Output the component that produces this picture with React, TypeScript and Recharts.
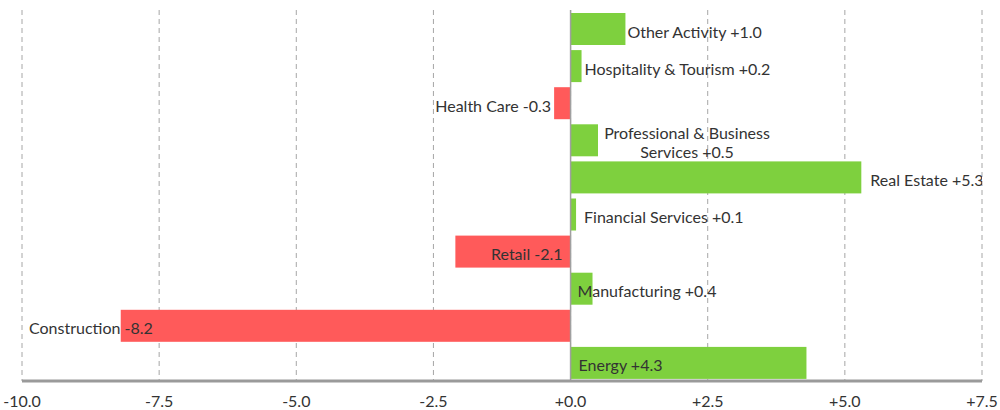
import React from 'react';
import { BarChart, Bar, XAxis, YAxis, CartesianGrid, ReferenceLine } from 'recharts';

const categories = [
  'Other Activity',
  'Hospitality & Tourism',
  'Health Care',
  'Professional & Business Services',
  'Real Estate',
  'Financial Services',
  'Retail',
  'Manufacturing',
  'Construction',
  'Energy',
];
const values = [1.0, 0.2, -0.3, 0.5, 5.3, 0.1, -2.1, 0.4, -8.2, 4.3];
const xTicks = [-10, -7.5, -5, -2.5, 0, 2.5, 5, 7.5];

const data = categories.map((name, i) => ({ name, value: values[i] }));

// label placement styling (reference: 'end' = bar end, 'zero' = bar base, 'min' = plot left)
type Placement = { ref: 'end' | 'zero' | 'min'; anchor: 'start' | 'end' | 'middle'; dx: number; wrap?: boolean };
const labelPlacement: Record<string, Placement> = {
  'Other Activity': { ref: 'end', anchor: 'start', dx: 2 },
  'Hospitality & Tourism': { ref: 'end', anchor: 'start', dx: 3 },
  'Health Care': { ref: 'end', anchor: 'end', dx: -3 },
  'Professional & Business Services': { ref: 'end', anchor: 'middle', dx: 89, wrap: true },
  'Real Estate': { ref: 'end', anchor: 'start', dx: 9 },
  'Financial Services': { ref: 'end', anchor: 'start', dx: 8 },
  Retail: { ref: 'zero', anchor: 'end', dx: -8 },
  Manufacturing: { ref: 'zero', anchor: 'start', dx: 7 },
  Construction: { ref: 'min', anchor: 'start', dx: 7 },
  Energy: { ref: 'zero', anchor: 'start', dx: 8 },
};

const MARGIN = { top: 10, right: 18, bottom: 0, left: 22 };
const GREEN = '#7ed03e';
const RED = '#ff5a5a';
const TEXT = '#333333';
const FONT = 'Lato, "Open Sans", sans-serif';

const fmt = (v: number) => (v >= 0 ? '+' : '') + v.toFixed(1);

const BarShape = (props: any) => {
  const { x, y, width, height, payload } = props;
  const v: number = payload.value;
  const left = Math.min(x, x + width);
  const right = Math.max(x, x + width);
  const w = right - left;
  const end = v >= 0 ? right : left;
  const zero = v >= 0 ? left : right;
  const p = labelPlacement[payload.name];
  const refX = p.ref === 'end' ? end : p.ref === 'zero' ? zero : MARGIN.left;
  const lx = refX + p.dx;
  const cy = y + height / 2;
  const full = `${payload.name} ${fmt(v)}`;
  let content: React.ReactNode;
  if (p.wrap) {
    const words = payload.name.split(' ');
    const last = words.pop();
    const line1 = words.join(' ');
    const line2 = `${last} ${fmt(v)}`;
    content = (
      <text x={lx} textAnchor={p.anchor} fill={TEXT} fontSize={16} fontFamily={FONT}>
        <tspan x={lx} y={cy - 1}>{line1}</tspan>
        <tspan x={lx} y={cy + 18}>{line2}</tspan>
      </text>
    );
  } else {
    content = (
      <text x={lx} y={cy + 8.5} textAnchor={p.anchor} fill={TEXT} fontSize={16} fontFamily={FONT}>
        {full}
      </text>
    );
  }
  return (
    <g>
      <rect x={left} y={y} width={w} height={height} fill={v >= 0 ? GREEN : RED} />
      {content}
    </g>
  );
};

const Tick = (props: any) => {
  const { x, y, payload } = props;
  return (
    <text x={x} y={y + 26} textAnchor="middle" fill={TEXT} fontSize={16} fontFamily={FONT}>
      {fmt(payload.value)}
    </text>
  );
};

export default function App() {
  return (
    <div style={{ position: 'absolute', left: 0, top: 0, width: 1000, height: 410, background: '#fff', overflow: 'visible' }}>
      <BarChart
        width={1000}
        height={410}
        data={data}
        layout="vertical"
        margin={MARGIN}
        style={{ fontFamily: FONT, overflow: 'visible' }}
      >
        <CartesianGrid horizontal={false} stroke="#a6a6a6" strokeDasharray="5 4" />
        <XAxis
          type="number"
          domain={[-10, 7.5]}
          ticks={xTicks}
          allowDataOverflow
          height={29}
          tickLine={false}
          tickSize={0}
          tickMargin={0}
          axisLine={{ stroke: '#9a9a9a', strokeWidth: 3 }}
          tick={<Tick />}
          interval={0}
        />
        <YAxis type="category" dataKey="name" hide />
        <Bar dataKey="value" barSize={32} isAnimationActive={false} shape={<BarShape />} />
        <ReferenceLine x={0} stroke="#a0a0a0" strokeWidth={1.5} />
      </BarChart>
    </div>
  );
}
